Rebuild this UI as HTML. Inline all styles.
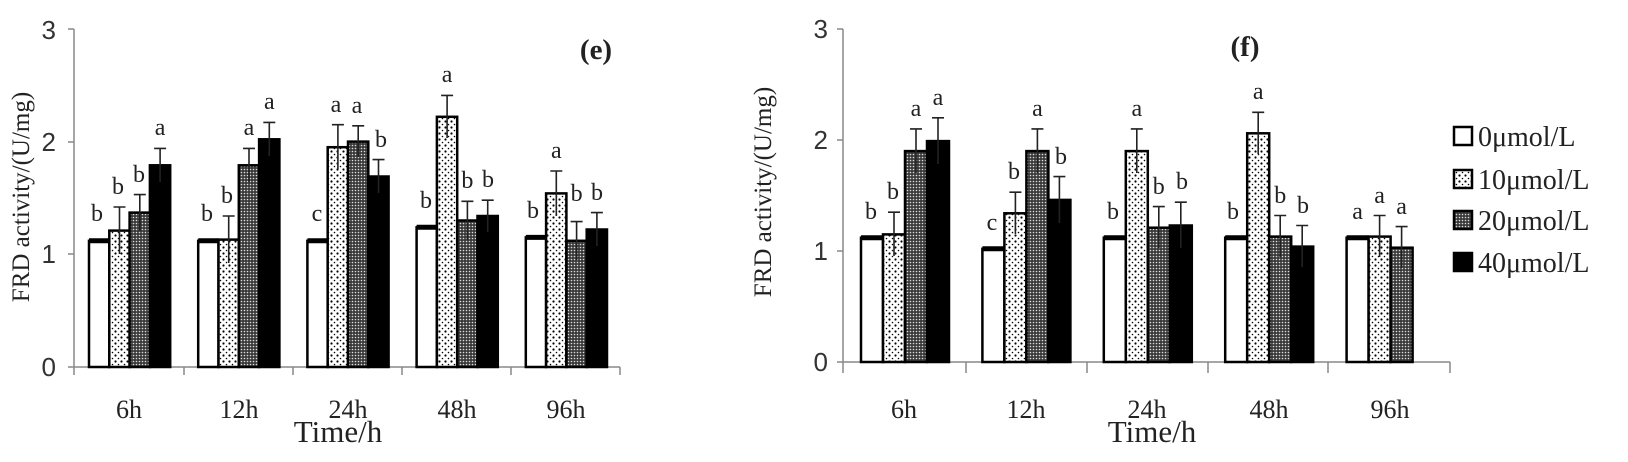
<!DOCTYPE html>
<html><head><meta charset="utf-8"><style>
html,body{margin:0;padding:0;background:#fff;}
svg{display:block;}
.t{font-family:"Liberation Serif",serif;font-size:25px;fill:#222;}
.n{font-family:"Liberation Sans",sans-serif;font-size:26px;fill:#333;}
.l{font-family:"Liberation Serif",serif;font-size:24px;fill:#222;text-anchor:middle;}
.x{font-family:"Liberation Serif",serif;font-size:26px;fill:#222;text-anchor:middle;}
rect.b{stroke:#000;stroke-width:2.5;}
.e{stroke:#222;stroke-width:1.6;fill:none;}
</style></head><body>
<svg width="1628" height="462" viewBox="0 0 1628 462" xmlns="http://www.w3.org/2000/svg">
<defs>
<pattern id="dt" width="6" height="6" patternUnits="userSpaceOnUse"><rect width="6" height="6" fill="#fff"/><circle cx="1.5" cy="1.5" r="1.1" fill="#000"/><circle cx="4.5" cy="4.5" r="0.8" fill="#000"/></pattern>
<pattern id="ck" width="3" height="3" patternUnits="userSpaceOnUse"><rect width="3" height="3" fill="#3a3a3a"/><circle cx="1.5" cy="1.5" r="0.8" fill="#ddd"/></pattern>
</defs>

<!-- LEFT CHART -->
<g>
<line x1="74" y1="29" x2="74" y2="367" stroke="#888" stroke-width="1.5"/>
<line x1="68" y1="29" x2="74" y2="29" stroke="#888" stroke-width="1.5"/>
<line x1="68" y1="142" x2="74" y2="142" stroke="#888" stroke-width="1.5"/>
<line x1="68" y1="254" x2="74" y2="254" stroke="#888" stroke-width="1.5"/>
<line x1="68" y1="367" x2="620" y2="367" stroke="#888" stroke-width="1.5"/>
<line x1="74" y1="367" x2="74" y2="375" stroke="#888" stroke-width="1.5"/>
<line x1="184" y1="367" x2="184" y2="375" stroke="#888" stroke-width="1.5"/>
<line x1="293" y1="367" x2="293" y2="375" stroke="#888" stroke-width="1.5"/>
<line x1="402" y1="367" x2="402" y2="375" stroke="#888" stroke-width="1.5"/>
<line x1="511" y1="367" x2="511" y2="375" stroke="#888" stroke-width="1.5"/>
<line x1="620" y1="367" x2="620" y2="375" stroke="#888" stroke-width="1.5"/>
<text class="n" x="56" y="39" text-anchor="end">3</text>
<text class="n" x="56" y="151" text-anchor="end">2</text>
<text class="n" x="56" y="263" text-anchor="end">1</text>
<text class="n" x="56" y="376" text-anchor="end">0</text>
<text class="t" transform="translate(29,197) rotate(-90)" text-anchor="middle">FRD activity/(U/mg)</text>
<text class="x" x="129" y="418">6h</text>
<text class="x" x="239" y="418">12h</text>
<text class="x" x="348" y="418">24h</text>
<text class="x" x="457" y="418">48h</text>
<text class="x" x="566" y="418">96h</text>
<text class="t" x="338" y="442" text-anchor="middle" style="font-size:31px">Time/h</text>
<text x="596" y="59" text-anchor="middle" style="font-family:'Liberation Serif',serif;font-size:29px;font-weight:bold;fill:#222">(e)</text>

<rect class="b" x="89" y="240.8" width="20.3" height="126.2" fill="#fff"/>
<rect class="b" x="109.3" y="230.6" width="20.3" height="136.4" fill="url(#dt)"/>
<rect class="b" x="129.6" y="212.6" width="20.3" height="154.4" fill="url(#ck)"/>
<rect class="b" x="149.9" y="165.3" width="20.3" height="201.7" fill="#000"/>
<rect class="b" x="198.2" y="240.8" width="20.3" height="126.2" fill="#fff"/>
<rect class="b" x="218.5" y="239.6" width="20.3" height="127.4" fill="url(#dt)"/>
<rect class="b" x="238.8" y="165.3" width="20.3" height="201.7" fill="url(#ck)"/>
<rect class="b" x="259.1" y="139.3" width="20.3" height="227.7" fill="#000"/>
<rect class="b" x="307.4" y="240.8" width="20.3" height="126.2" fill="#fff"/>
<rect class="b" x="327.7" y="147.2" width="20.3" height="219.8" fill="url(#dt)"/>
<rect class="b" x="348" y="141.6" width="20.3" height="225.4" fill="url(#ck)"/>
<rect class="b" x="368.3" y="176.5" width="20.3" height="190.5" fill="#000"/>
<rect class="b" x="416.6" y="227.3" width="20.3" height="139.7" fill="#fff"/>
<rect class="b" x="436.9" y="116.8" width="20.3" height="250.2" fill="url(#dt)"/>
<rect class="b" x="457.2" y="220.5" width="20.3" height="146.5" fill="url(#ck)"/>
<rect class="b" x="477.5" y="216" width="20.3" height="151" fill="#000"/>
<rect class="b" x="525.8" y="237.4" width="20.3" height="129.6" fill="#fff"/>
<rect class="b" x="546.1" y="193.4" width="20.3" height="173.6" fill="url(#dt)"/>
<rect class="b" x="566.4" y="240.8" width="20.3" height="126.2" fill="url(#ck)"/>
<rect class="b" x="586.7" y="229.5" width="20.3" height="137.5" fill="#000"/>

<path class="e" d="M119.5 254V207M113.5 207h12 M139.8 230.6V194.6M133.8 194.6h12 M160.1 182V148.4M154.1 148.4h12
M228.7 263V216M222.7 216h12 M249 182V148.4M243 148.4h12 M269.3 156V122.4M263.3 122.4h12
M337.9 169V124.7M331.9 124.7h12 M358.2 157V125.8M352.2 125.8h12 M378.5 193V159.6M372.5 159.6h12
M447.1 138V95.4M441.1 95.4h12 M467.4 240V201.3M461.4 201.3h12 M487.7 232V200.2M481.7 200.2h12
M556.3 216V171M550.3 171h12 M576.6 260V221.6M570.6 221.6h12 M596.9 246V212.6M590.9 212.6h12"/>
<path d="M89 240.8h20.3 M198.2 240.8h20.3 M307.4 240.8h20.3 M416.6 227.3h20.3 M525.8 237.4h20.3" stroke="#000" stroke-width="5"/>

<text class="l" x="97" y="221">b</text><text class="l" x="118" y="194">b</text><text class="l" x="139" y="182">b</text><text class="l" x="160.1" y="135">a</text>
<text class="l" x="207" y="221">b</text><text class="l" x="227" y="203">b</text><text class="l" x="249" y="135">a</text><text class="l" x="269.3" y="109">a</text>
<text class="l" x="317" y="221">c</text><text class="l" x="336" y="112">a</text><text class="l" x="357" y="113">a</text><text class="l" x="381" y="147">b</text>
<text class="l" x="426" y="208">b</text><text class="l" x="447.1" y="82">a</text><text class="l" x="467.4" y="188">b</text><text class="l" x="488" y="187">b</text>
<text class="l" x="533" y="218">b</text><text class="l" x="556.3" y="158">a</text><text class="l" x="576.6" y="201">b</text><text class="l" x="597" y="200">b</text>
</g>

<!-- RIGHT CHART -->
<g>
<line x1="843" y1="29" x2="843" y2="362" stroke="#888" stroke-width="1.5"/>
<line x1="837" y1="29" x2="843" y2="29" stroke="#888" stroke-width="1.5"/>
<line x1="837" y1="140" x2="843" y2="140" stroke="#888" stroke-width="1.5"/>
<line x1="837" y1="251" x2="843" y2="251" stroke="#888" stroke-width="1.5"/>
<line x1="837" y1="362" x2="1450" y2="362" stroke="#888" stroke-width="1.5"/>
<line x1="843" y1="362" x2="843" y2="373" stroke="#888" stroke-width="1.5"/>
<line x1="966" y1="362" x2="966" y2="373" stroke="#888" stroke-width="1.5"/>
<line x1="1087" y1="362" x2="1087" y2="373" stroke="#888" stroke-width="1.5"/>
<line x1="1208" y1="362" x2="1208" y2="373" stroke="#888" stroke-width="1.5"/>
<line x1="1328" y1="362" x2="1328" y2="373" stroke="#888" stroke-width="1.5"/>
<line x1="1450" y1="362" x2="1450" y2="373" stroke="#888" stroke-width="1.5"/>
<text class="n" x="828" y="38" text-anchor="end">3</text>
<text class="n" x="828" y="149" text-anchor="end">2</text>
<text class="n" x="828" y="260" text-anchor="end">1</text>
<text class="n" x="828" y="371" text-anchor="end">0</text>
<text class="t" transform="translate(771,192) rotate(-90)" text-anchor="middle">FRD activity/(U/mg)</text>
<text class="x" x="904" y="418">6h</text>
<text class="x" x="1026" y="418">12h</text>
<text class="x" x="1147" y="418">24h</text>
<text class="x" x="1269" y="418">48h</text>
<text class="x" x="1390" y="418">96h</text>
<text class="t" x="1152" y="442" text-anchor="middle" style="font-size:31px">Time/h</text>
<text x="1245" y="56" text-anchor="middle" style="font-family:'Liberation Serif',serif;font-size:29px;font-weight:bold;fill:#222">(f)</text>

<rect class="b" x="861" y="237.7" width="22" height="124.3" fill="#fff"/>
<rect class="b" x="883" y="234.4" width="22" height="127.6" fill="url(#dt)"/>
<rect class="b" x="905" y="151.1" width="22" height="210.9" fill="url(#ck)"/>
<rect class="b" x="927" y="141.1" width="22" height="220.9" fill="#000"/>
<rect class="b" x="982.4" y="248.8" width="22" height="113.2" fill="#fff"/>
<rect class="b" x="1004.4" y="213.3" width="22" height="148.7" fill="url(#dt)"/>
<rect class="b" x="1026.4" y="151.1" width="22" height="210.9" fill="url(#ck)"/>
<rect class="b" x="1048.4" y="199.9" width="22" height="162.1" fill="#000"/>
<rect class="b" x="1103.8" y="237.7" width="22" height="124.3" fill="#fff"/>
<rect class="b" x="1125.8" y="151.1" width="22" height="210.9" fill="url(#dt)"/>
<rect class="b" x="1147.8" y="227.7" width="22" height="134.3" fill="url(#ck)"/>
<rect class="b" x="1169.8" y="225.5" width="22" height="136.5" fill="#000"/>
<rect class="b" x="1225.2" y="237.7" width="22" height="124.3" fill="#fff"/>
<rect class="b" x="1247.2" y="133.3" width="22" height="228.7" fill="url(#dt)"/>
<rect class="b" x="1269.2" y="236.6" width="22" height="125.4" fill="url(#ck)"/>
<rect class="b" x="1291.2" y="246.6" width="22" height="115.4" fill="#000"/>
<rect class="b" x="1346.6" y="237.7" width="22" height="124.3" fill="#fff"/>
<rect class="b" x="1368.6" y="236.6" width="22" height="125.4" fill="url(#dt)"/>
<rect class="b" x="1390.6" y="247.7" width="22" height="114.3" fill="url(#ck)"/>

<path class="e" d="M894 256V212.2M888 212.2h12 M916 173V128.9M910 128.9h12 M938 164V117.8M932 117.8h12
M1015.4 234V192.2M1009.4 192.2h12 M1037.4 173V128.9M1031.4 128.9h12 M1059.4 223V176.6M1053.4 176.6h12
M1136.8 173V128.9M1130.8 128.9h12 M1158.8 248V206.6M1152.8 206.6h12 M1180.8 248V202.2M1174.8 202.2h12
M1258.2 154V112.3M1252.2 112.3h12 M1280.2 257V215.5M1274.2 215.5h12 M1302.2 267V225.5M1296.2 225.5h12
M1379.6 257V215.5M1373.6 215.5h12 M1401.6 268V226.6M1395.6 226.6h12"/>
<path d="M861 237.7h22 M982.4 248.8h22 M1103.8 237.7h22 M1225.2 237.7h22 M1346.6 237.7h22" stroke="#000" stroke-width="5"/>

<text class="l" x="871" y="219">b</text><text class="l" x="893" y="199">b</text><text class="l" x="916" y="116">a</text><text class="l" x="938" y="105">a</text>
<text class="l" x="992" y="230">c</text><text class="l" x="1014" y="179">b</text><text class="l" x="1037.4" y="116">a</text><text class="l" x="1061" y="164">b</text>
<text class="l" x="1113" y="219">b</text><text class="l" x="1136.8" y="116">a</text><text class="l" x="1158.8" y="194">b</text><text class="l" x="1182" y="189">b</text>
<text class="l" x="1233" y="219">b</text><text class="l" x="1258.2" y="99">a</text><text class="l" x="1280.2" y="203">b</text><text class="l" x="1303" y="213">b</text>
<text class="l" x="1357.6" y="219">a</text><text class="l" x="1379.6" y="203">a</text><text class="l" x="1401.6" y="214">a</text>

<rect x="1454" y="127" width="18" height="18" fill="#fff" stroke="#000" stroke-width="2.5"/>
<rect x="1454" y="170" width="18" height="18" fill="url(#dt)" stroke="#000" stroke-width="2.5"/>
<rect x="1454" y="211" width="18" height="18" fill="url(#ck)" stroke="#000" stroke-width="2.5"/>
<rect x="1454" y="253" width="18" height="18" fill="#000" stroke="#000" stroke-width="2.5"/>
<text class="t" x="1478" y="146" style="font-size:28px">0μmol/L</text>
<text class="t" x="1478" y="189" style="font-size:28px">10μmol/L</text>
<text class="t" x="1478" y="230" style="font-size:28px">20μmol/L</text>
<text class="t" x="1478" y="272" style="font-size:28px">40μmol/L</text>
</g>
</svg>
</body></html>
